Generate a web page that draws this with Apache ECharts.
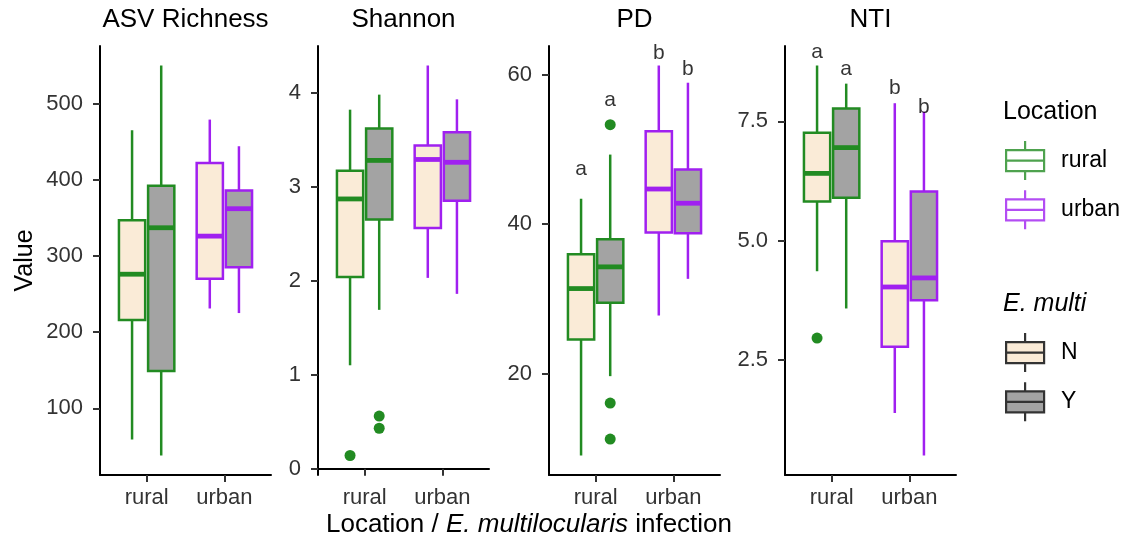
<!DOCTYPE html>
<html lang="en">
<head>
<meta charset="UTF-8">
<script src="https://cdn.jsdelivr.net/npm/echarts@6/dist/echarts.min.js"></script>
<title>Alpha diversity</title>
</head>
<body style="margin:0">
<div id="main" style="width:1126px;height:544px;"></div>
<script type="text/javascript">
var categories = ['rural', 'urban'];
var panelTitles = ['ASV Richness', 'Shannon', 'PD', 'NTI'];

// [lower whisker, Q1, median, Q3, upper whisker] -> rural, urban
var asvN = [[59, 216, 276, 347, 465], [231, 270, 326, 422, 479]];
var asvY = [[38, 149, 337, 392, 550], [225, 285, 362, 386, 444]];
var shannonN = [[1.10, 2.04, 2.87, 3.17, 3.82], [2.03, 2.56, 3.29, 3.44, 4.29]];
var shannonY = [[1.69, 2.65, 3.28, 3.62, 3.98], [1.86, 2.85, 3.26, 3.58, 3.93]];
var pdN = [[9.1, 24.6, 31.4, 36.0, 43.4], [27.8, 38.9, 44.7, 52.4, 61.2]];
var pdY = [[19.7, 29.5, 34.3, 38.0, 49.3], [32.7, 38.8, 42.8, 47.3, 58.9]];
var ntiN = [[4.36, 5.82, 6.41, 7.26, 8.67], [1.39, 2.78, 4.03, 4.99, 7.88]];
var ntiY = [[3.58, 5.90, 6.95, 7.77, 8.29], [0.50, 3.75, 4.22, 6.03, 7.70]];

// outliers: [location, infection, value]
var asvOut = [];
var shannonOut = [['rural', 'N', 0.14], ['rural', 'Y', 0.56], ['rural', 'Y', 0.43]];
var pdOut = [['rural', 'Y', 53.3], ['rural', 'Y', 16.1], ['rural', 'Y', 11.3]];
var ntiOut = [['rural', 'N', 2.96]];

// letters: [location, infection, letter, y]
var asvLetters = [];
var shannonLetters = [];
var pdLetters = [['rural', 'N', 'a', 47.4], ['rural', 'Y', 'a', 56.5], ['urban', 'N', 'b', 62.9], ['urban', 'Y', 'b', 60.7]];
var ntiLetters = [['rural', 'N', 'a', 8.95], ['rural', 'Y', 'a', 8.59], ['urban', 'N', 'b', 8.19], ['urban', 'Y', 'b', 7.79]];

var yTicks = [[100, 200, 300, 400, 500], [0, 1, 2, 3, 4], [20, 40, 60], [2.5, 5.0, 7.5]];

var locColors = ['#228B22', '#A020F0'];
var infFill = { N: '#FAEBD7', Y: '#A3A3A3' };
var dodge = { N: -0.1875, Y: 0.1875 };
var boxW = 0.3375;
var font = 'Liberation Sans, Arial, sans-serif';

var panels = [
  { N: asvN, Y: asvY, out: asvOut, letters: asvLetters },
  { N: shannonN, Y: shannonY, out: shannonOut, letters: shannonLetters },
  { N: pdN, Y: pdY, out: pdOut, letters: pdLetters },
  { N: ntiN, Y: ntiY, out: ntiOut, letters: ntiLetters }
];
var gridLefts = [100, 318, 549, 785];
var gridWidth = 171;

function boxRender(inf) {
  return function (params, api) {
    var loc = api.value(0);
    var x = loc + dodge[inf];
    var lo = api.coord([x, api.value(1)]);
    var q1 = api.coord([x, api.value(2)]);
    var md = api.coord([x, api.value(3)]);
    var q3 = api.coord([x, api.value(4)]);
    var hi = api.coord([x, api.value(5)]);
    var w = api.size([boxW, 0])[0];
    var c = locColors[loc - 1];
    return {
      type: 'group',
      children: [
        { type: 'line', shape: { x1: hi[0], y1: hi[1], x2: q3[0], y2: q3[1] }, style: { stroke: c, lineWidth: 2.5 } },
        { type: 'line', shape: { x1: lo[0], y1: lo[1], x2: q1[0], y2: q1[1] }, style: { stroke: c, lineWidth: 2.5 } },
        { type: 'rect', shape: { x: q3[0] - w / 2, y: q3[1], width: w, height: q1[1] - q3[1] },
          style: { fill: infFill[inf], stroke: c, lineWidth: 2.5 } },
        { type: 'line', shape: { x1: md[0] - w / 2, y1: md[1], x2: md[0] + w / 2, y2: md[1] }, style: { stroke: c, lineWidth: 4.8 } }
      ]
    };
  };
}

function extent(p) {
  var vals = [];
  ['N', 'Y'].forEach(function (k) { p[k].forEach(function (b) { vals = vals.concat(b); }); });
  p.out.forEach(function (o) { vals.push(o[2]); });
  var mn = Math.min.apply(null, vals), mx = Math.max.apply(null, vals);
  var pad = (mx - mn) * 0.05;
  return [mn - pad, mx + pad];
}

var grid = [], xAxis = [], yAxis = [], series = [], title = [];
panels.forEach(function (p, i) {
  var ext = extent(p);
  grid.push({ left: gridLefts[i], top: 46, width: gridWidth, height: 429 });
  xAxis.push({
    type: 'value', gridIndex: i, min: 0.4, max: 2.6, splitLine: { show: false },
    axisLine: { lineStyle: { color: '#000', width: 2 } },
    axisTick: { customValues: [1, 2], length: 7, lineStyle: { color: '#333', width: 2 } },
    axisLabel: { customValues: [1, 2], margin: 12, color: '#333', fontSize: 22, fontFamily: font,
      formatter: function (v) { return categories[Math.round(v) - 1]; } }
  });
  yAxis.push({
    type: 'value', gridIndex: i, min: ext[0], max: ext[1], splitLine: { show: false },
    name: i === 0 ? 'Value' : '', nameLocation: 'middle', nameGap: 62, nameRotate: 90,
    nameTextStyle: { color: '#000', fontSize: 25, fontFamily: font },
    axisLine: { show: true, lineStyle: { color: '#000', width: 2 } },
    axisTick: { show: true, customValues: yTicks[i], length: 7, lineStyle: { color: '#333', width: 2 } },
    axisLabel: { customValues: yTicks[i], margin: 17, color: '#333', fontSize: 22, fontFamily: font,
      formatter: function (v) { return i === 3 ? v.toFixed(1) : String(v); } }
  });
  title.push({ text: panelTitles[i], left: gridLefts[i] + gridWidth / 2, top: 7, padding: 0, textAlign: 'center',
    textStyle: { color: '#000', fontSize: 26, fontWeight: 'normal', fontFamily: font } });

  ['N', 'Y'].forEach(function (inf) {
    series.push({
      type: 'custom', name: inf, xAxisIndex: i, yAxisIndex: i, silent: true,
      renderItem: boxRender(inf),
      encode: { x: 0, y: [1, 2, 3, 4, 5] },
      data: p[inf].map(function (b, k) { return [k + 1].concat(b); })
    });
  });
  series.push({
    type: 'scatter', xAxisIndex: i, yAxisIndex: i, silent: true, symbolSize: 11, z: 5,
    data: p.out.map(function (o) {
      var loc = categories.indexOf(o[0]);
      return { value: [loc + 1 + dodge[o[1]], o[2]], itemStyle: { color: locColors[loc], opacity: 1 } };
    })
  });
  series.push({
    type: 'scatter', xAxisIndex: i, yAxisIndex: i, silent: true, symbolSize: 0, z: 6,
    label: { show: true, position: 'inside', color: '#000', fontSize: 21, fontFamily: font,
      formatter: function (d) { return d.value[2]; } },
    data: p.letters.map(function (l) {
      return [categories.indexOf(l[0]) + 1 + dodge[l[1]], l[3], l[2]];
    })
  });
});

series.push({ type: 'scatter', name: 'rural', data: [] });
series.push({ type: 'scatter', name: 'urban', data: [] });

title.push({
  text: '{n|Location / }{i|E. multilocularis}{n| infection}', left: 529, top: 512, padding: 0, textAlign: 'center',
  textStyle: { fontWeight: 'normal', rich: {
    n: { fontSize: 26, color: '#000', fontWeight: 'normal', fontFamily: font },
    i: { fontSize: 26, color: '#000', fontWeight: 'normal', fontFamily: font, fontStyle: 'italic' }
  } }
});
title.push({ text: 'Location', left: 1003, top: 100, padding: 0,
  textStyle: { color: '#000', fontSize: 25, fontWeight: 'normal', fontFamily: font } });
title.push({ text: 'E. multi', left: 1003, top: 292, padding: 0,
  textStyle: { color: '#000', fontSize: 25, fontWeight: 'normal', fontStyle: 'italic', fontFamily: font } });

var boxIcon = 'path://M19,0L19,9M0,9L38,9L38,30L0,30ZM0,19.5L38,19.5M19,30L19,39';
function legendItem(name, fill, stroke) {
  return { name: name, icon: boxIcon, itemStyle: { color: fill, borderColor: stroke, borderWidth: 2.2 } };
}
var legendBase = {
  orient: 'vertical', left: 1005, itemWidth: 38, itemHeight: 39, itemGap: 8, padding: 0, selectedMode: false,
  textStyle: { color: '#000', fontSize: 23, fontFamily: font, padding: [0, 0, 0, 12] }
};

var option = {
  animation: false,
  backgroundColor: '#fff',
  title: title,
  grid: grid,
  xAxis: xAxis,
  yAxis: yAxis,
  legend: [
    Object.assign({}, legendBase, { top: 140, data: [legendItem('rural', '#fff', locColors[0]), legendItem('urban', '#fff', locColors[1])] }),
    Object.assign({}, legendBase, { top: 332, data: [legendItem('N', infFill.N, '#333'), legendItem('Y', infFill.Y, '#333')] })
  ],
  series: series
};

var myChart = echarts.init(document.getElementById('main'));
myChart.setOption(option);
</script>
</body>
</html>
